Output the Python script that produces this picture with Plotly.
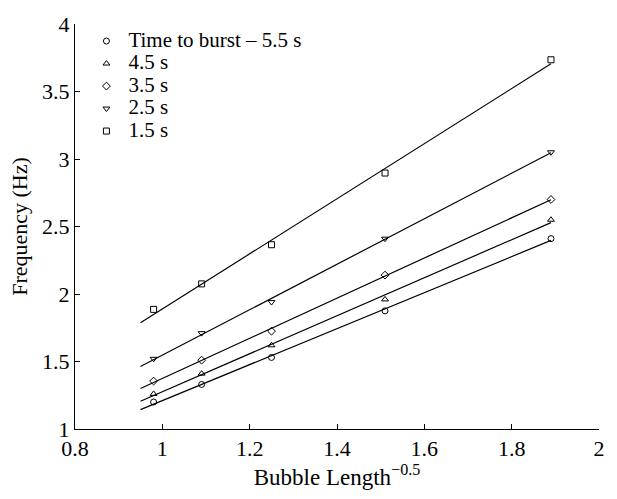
import numpy as np
import plotly.graph_objects as go

x = [0.98, 1.09, 1.25, 1.51, 1.89]
names = ["Time to burst \u2013 5.5 s", "4.5 s", "3.5 s", "2.5 s", "1.5 s"]
symbols = ["circle-open", "triangle-up-open", "diamond-open", "triangle-down-open", "square-open"]
f_55 = [1.20, 1.33, 1.53, 1.875, 2.41]
f_45 = [1.26, 1.41, 1.62, 1.96, 2.55]
f_35 = [1.355, 1.51, 1.725, 2.14, 2.70]
f_25 = [1.52, 1.71, 1.94, 2.41, 3.05]
f_15 = [1.886, 2.075, 2.365, 2.896, 3.735]
series = [f_55, f_45, f_35, f_25, f_15]
fit_x = [0.95, 1.89]

FONT = "Liberation Serif, Times New Roman, Times, serif"
fig = go.Figure()
for name, sym, ys in zip(names, symbols, series):
    fig.add_trace(go.Scatter(x=x, y=ys, mode="markers",
                             name='<span style="font-size:21px">' + name + '</span>',
                             marker=dict(symbol=sym, size=6, color="black",
                                         line=dict(color="black", width=1))))
for ys in series:
    k, b = np.polyfit(x, ys, 1)
    xs = np.array(fit_x)
    fig.add_trace(go.Scatter(x=xs, y=k * xs + b, mode="lines", showlegend=False,
                             line=dict(color="black", width=1.2), hoverinfo="skip"))

fig.update_layout(
    width=617, height=499,
    margin=dict(l=75, r=12, t=15, b=70),
    paper_bgcolor="white", plot_bgcolor="white",
    font=dict(family=FONT, size=22, color="black"),
    showlegend=True,
    legend=dict(x=0.018, y=0.998, xanchor="left", yanchor="top",
                bgcolor="rgba(0,0,0,0)", font=dict(size=15, family=FONT),
                itemsizing="trace", tracegroupgap=0, itemwidth=34),
    xaxis=dict(range=[0.8, 2], tickvals=[0.8, 1, 1.2, 1.4, 1.6, 1.8, 2],
               ticktext=["0.8", "1", "1.2", "1.4", "1.6", "1.8", "2"],
               showgrid=False, zeroline=False, showline=True, linecolor="black",
               linewidth=1, ticks="inside", ticklen=5, tickcolor="black",
               title=dict(text="Bubble Length<sup>\u22120.5</sup>", standoff=0,
                          font=dict(size=23, family=FONT)),
               tickfont=dict(size=22, family=FONT)),
    yaxis=dict(range=[1, 4], tickvals=[1, 1.5, 2, 2.5, 3, 3.5, 4],
               ticktext=["1", "1.5", "2", "2.5", "3", "3.5", "4"],
               showgrid=False, zeroline=False, showline=True, linecolor="black",
               linewidth=1, ticks="inside", ticklen=5, tickcolor="black",
               title=dict(text="Frequency (Hz)", standoff=8,
                          font=dict(size=22, family=FONT)),
               tickfont=dict(size=22, family=FONT)),
)
fig.write_html("out.html")
